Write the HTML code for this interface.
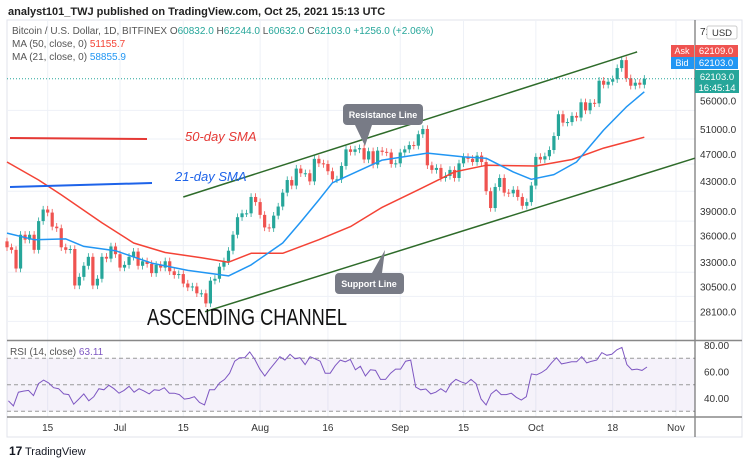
<!DOCTYPE html>
<html><head><meta charset="utf-8"><style>
body{margin:0;background:#fff;width:750px;height:465px;overflow:hidden;font-family:"Liberation Sans",sans-serif}
svg{display:block}
</style></head><body>
<svg id="c" width="750" height="465" viewBox="0 0 750 465" xmlns="http://www.w3.org/2000/svg">
<text x="8" y="15" font-size="11" fill="#222" font-weight="bold">analyst101_TWJ published on TradingView.com, Oct 25, 2021 15:13 UTC</text>
<rect x="7" y="20" width="735" height="417" fill="#fff" stroke="#e0e3eb"/>
<g id="grid"></g>
<g id="main"></g>
<g id="rsi"></g>
<line x1="695" y1="20" x2="695" y2="437" stroke="#555"/>
<line x1="7" y1="340.5" x2="742" y2="340.5" stroke="#888" stroke-width="1.5"/>
<line x1="7" y1="417" x2="742" y2="417" stroke="#888" stroke-width="1.5"/>
<g id="axes" font-size="10" fill="#333"></g>
<g font-size="10">
<text x="12" y="34" fill="#555">Bitcoin / U.S. Dollar, 1D, BITFINEX <tspan fill="#555">O</tspan><tspan fill="#26a69a">60832.0</tspan> <tspan fill="#555">H</tspan><tspan fill="#26a69a">62244.0</tspan> <tspan fill="#555">L</tspan><tspan fill="#26a69a">60632.0</tspan> <tspan fill="#555">C</tspan><tspan fill="#26a69a">62103.0</tspan> <tspan fill="#26a69a">+1256.0 (+2.06%)</tspan></text>
<text x="12" y="47" fill="#555">MA (50, close, 0) <tspan fill="#f44336">51155.7</tspan></text>
<text x="12" y="60" fill="#555">MA (21, close, 0) <tspan fill="#2196f3">58855.9</tspan></text>
</g>
<g>
<line x1="10" y1="138" x2="147" y2="139" stroke="#e53935" stroke-width="2"/>
<text x="185" y="141" font-size="13" font-style="italic" fill="#e53935">50-day SMA</text>
<line x1="10" y1="187" x2="152" y2="183" stroke="#1e63e9" stroke-width="2"/>
<text x="175" y="181" font-size="13" font-style="italic" fill="#1e63e9">21-day SMA</text>
<path d="M355 125 L365 146 L372 125 Z" fill="#787b86"/>
<rect x="343" y="104" width="80" height="21" rx="4" fill="#787b86"/>
<text x="383" y="118" font-size="9" font-weight="bold" fill="#fff" text-anchor="middle">Resistance Line</text>
<path d="M372 273 L385 250 L382 273 Z" fill="#787b86"/>
<rect x="335" y="273" width="69" height="21" rx="4" fill="#787b86"/>
<text x="369" y="287" font-size="9" font-weight="bold" fill="#fff" text-anchor="middle">Support Line</text>
<text x="147" y="325" font-size="23" fill="#111" textLength="200" lengthAdjust="spacingAndGlyphs">ASCENDING CHANNEL</text>
</g>
<g>
<rect x="671" y="45" width="23" height="12" fill="#ef5350"/>
<text x="682" y="54" font-size="9" fill="#fff" text-anchor="middle">Ask</text>
<rect x="695" y="45" width="43" height="12" fill="#ef5350"/>
<text x="716" y="54" font-size="9.5" fill="#fff" text-anchor="middle">62109.0</text>
<rect x="671" y="57" width="23" height="12" fill="#2196f3"/>
<text x="682" y="66" font-size="9" fill="#fff" text-anchor="middle">Bid</text>
<rect x="695" y="57" width="43" height="12" fill="#2196f3"/>
<text x="716" y="66" font-size="9.5" fill="#fff" text-anchor="middle">62103.0</text>
<rect x="695" y="70" width="44" height="23" fill="#26a69a"/>
<text x="717" y="80" font-size="9.5" fill="#fff" text-anchor="middle">62103.0</text>
<text x="717" y="91" font-size="9.5" fill="#fff" text-anchor="middle">16:45:14</text>
<text x="700" y="35" font-size="10" fill="#333">72000.0</text>
<rect x="707" y="26" width="30" height="13" rx="2" fill="#fff" stroke="#ccc"/>
<text x="722" y="36" font-size="9.5" fill="#333" text-anchor="middle">USD</text>
</g>
<text x="10" y="355" font-size="10" fill="#555">RSI (14, close) <tspan fill="#7e57c2">63.11</tspan></text>
<g>
<text x="9" y="455" font-size="12" font-weight="bold" fill="#131722">17</text>
<text x="25" y="455" font-size="11" fill="#131722">TradingView</text>
</g>
</svg>
<script>
const closes=[35.8,35.5,33.4,37.3,36.7,37.3,35.5,39.0,
40.5,40.1,38.3,38.1,35.8,35.5,
35.6,31.6,32.5,
33.7,34.7,31.6,32.3,34.7,34.5,35.9,35.0,
33.5,33.8,34.7,35.3,33.7,34.2,33.9,32.9,33.8,33.5,
34.2,33.1,32.7,32.8,31.8,31.4,31.5,30.8,30.8,29.8,
32.1,32.3,33.6,34.2,35.4,37.3,39.5,40.0,40.0,42.2,41.5,
39.8,38.2,38.1,39.7,40.9,42.8,44.6,43.8,46.3,45.6,
45.6,44.4,47.8,47.1,47.0,45.9,44.7,44.7,46.7,49.3,
48.9,49.3,49.5,47.7,49.0,46.9,49.1,48.9,48.8,47.0,47.1,
48.8,49.3,50.0,49.9,51.8,52.7,46.8,46.1,46.4,44.9,
45.2,46.1,44.9,47.1,48.1,47.8,47.3,48.3,47.3,43.0,
40.7,43.6,44.9,42.8,42.7,43.2,42.2,41.0,41.5,43.8,
48.1,47.7,48.2,49.2,51.5,55.3,53.8,53.9,55.0,54.7,
57.5,56.0,57.4,57.3,61.7,60.9,61.5,62.0,64.3,66.0,
62.2,60.7,61.3,60.9,62.1];
const firstDay=5;
const firstOpen=36.5;
const ma50Days=[5,12,17,26,33,40,48,54,59,66,74,81,88,96,104,111,122,130,137,146];
const ma50=[47.3,44.6,42.5,38.8,36.3,35.2,34.6,34.1,35.1,35.1,36.7,38.3,40.8,43.2,45.8,46.8,46.7,47.7,49.5,51.3];
const ma21Days=[5,11,18,22,29,37,45,54,59,66,70,74,77,81,88,98,106,111,117,121,126,131,137,142,146];
const ma21=[37.5,36.7,36.8,35.9,35.4,34.0,33.2,32.6,33.8,36.3,38.9,41.8,44.2,45.4,47.6,48.7,48.1,47.9,45.8,44.7,45.4,47.3,52.5,56.6,59.5];
const channelDays=[44,144.4];
const upperChannel=[42.2,67.8];
const lowerDays=[48.8,157.2];
const lowerChannel=[29.0,47.9];
const rsiVals=[37.9,34.0,44.4,45.2,45.7,41.8,50.9,53.5,51.4,47.8,47.0,43.1,42.6,35.3,39.2,43.1,37.9,41.0,47.0,46.2,49.6,47.0,43.6,45.7,48.8,44.4,47.0,45.2,43.1,46.2,45.7,47.8,43.6,43.6,42.6,39.2,39.7,41.0,36.6,34.8,46.2,46.2,51.4,54.0,58.7,67.8,70.4,70.4,74.8,69.1,61.8,56.6,61.8,66.5,71.2,68.6,73.0,69.6,70.4,65.2,71.2,69.6,67.8,58.7,58.7,64.4,68.6,67.3,69.1,61.3,63.9,56.6,61.3,60.8,54.0,54.0,58.7,61.8,61.8,67.8,68.6,48.3,46.2,46.8,43.1,44.4,47.0,44.4,50.9,54.0,52.2,50.9,54.0,50.9,39.2,34.8,43.1,46.2,42.6,42.6,43.6,40.5,38.4,41.0,58.2,57.4,59.2,61.8,66.5,70.4,65.7,66.5,67.3,67.3,71.2,66.5,67.8,68.6,74.3,72.2,73.0,76.4,78.2,65.2,61.3,61.8,60.8,63.4];
const priceTicks=[56000,51000,47000,43000,39000,36000,33000,30500,28100];
const rsiTicks=[80,60,40];
const dateLabels=["15","Jul","15","Aug","16","Sep","15","Oct","18","Nov"];
const dateDays=[14,30,44,61,76,92,106,122,139,153];

const NS="http://www.w3.org/2000/svg";
const xD=d=>-15.6+4.52*d;
const yP=p=>139-306*Math.log(p/51000);
const yR=v=>345+(80-v)*1.325;
function mk(parent,tag,attrs){const e=document.createElementNS(NS,tag);for(const k in attrs)e.setAttribute(k,attrs[k]);document.getElementById(parent).appendChild(e);return e;}

// grid
dateDays.forEach((d,i)=>{const x=xD(d);
 const g=mk('grid','line',{x1:x,y1:20,x2:x,y2:417,stroke:'#eef1f7'});
 
 
 const t=mk('axes','text',{x:x,y:431,'text-anchor':'middle'});t.textContent=dateLabels[i];
 
 
});
priceTicks.forEach(p=>{const y=yP(p);
 const g=mk('grid','line',{x1:7,y1:y,x2:695,y2:y,stroke:'#eef1f7'});
 
 
 const t=mk('axes','text',{x:700,y:y-6});t.textContent=p.toFixed(1);
 
 
});
rsiTicks.forEach(v=>{const t=mk('axes','text',{x:704,y:yR(v)+4});t.textContent=v.toFixed(2);
 
 
});

// candles
let prev=firstOpen;
closes.forEach((c,i)=>{const o=prev;prev=c;const x=xD(firstDay+i);
 const up=c>=o;const col=up?'#26a69a':'#ef5350';
 const hi=Math.max(o,c)*1.012,lo=Math.min(o,c)*0.988;
 const w=mk('main','line',{x1:x,y1:yP(hi*1000),x2:x,y2:yP(lo*1000),stroke:col,'stroke-width':0.8});
 
 
 const yt=yP(Math.max(o,c)*1000),yb=yP(Math.min(o,c)*1000);
 const b=mk('main','rect',{x:x-1.6,y:yt,width:3.2,height:Math.max(1,yb-yt),fill:col});
 
 
});
function line(days,vals,col,name,w){const pts=days.map((d,i)=>xD(d).toFixed(1)+','+yP(vals[i]*1000).toFixed(1)).join(' ');
 const l=mk('main','polyline',{points:pts,fill:'none',stroke:col,'stroke-width':w,'stroke-linejoin':'round'});
 
 }
line(ma50Days,ma50,'#f44336','ma50-line',1.5);
line(ma21Days,ma21,'#2196f3','ma21-line',1.5);
line(channelDays,upperChannel,'#2e6b2a','upper-channel-line',1.5);
line(lowerDays,lowerChannel,'#2e6b2a','lower-channel-line',1.5);
const lp=mk('main','line',{x1:7,y1:yP(62103),x2:695,y2:yP(62103),stroke:'#26a69a','stroke-dasharray':'1,2'});



// rsi
const band=mk('rsi','rect',{x:7,y:yR(70),width:688,height:yR(30)-yR(70),fill:'rgba(126,87,194,0.08)'});


[70,50,30].forEach(v=>{const l=mk('rsi','line',{x1:7,y1:yR(v),x2:695,y2:yR(v),stroke:'#999','stroke-dasharray':'4,3'});
 
 });
const n=rsiVals.length,d0=5.3,d1=146.6;
const rp=rsiVals.map((v,i)=>xD(d0+(d1-d0)*i/(n-1)).toFixed(1)+','+yR(v).toFixed(1)).join(' ');
const rl=mk('rsi','polyline',{points:rp,fill:'none',stroke:'#7e57c2','stroke-width':1});


</script>
</body></html>
